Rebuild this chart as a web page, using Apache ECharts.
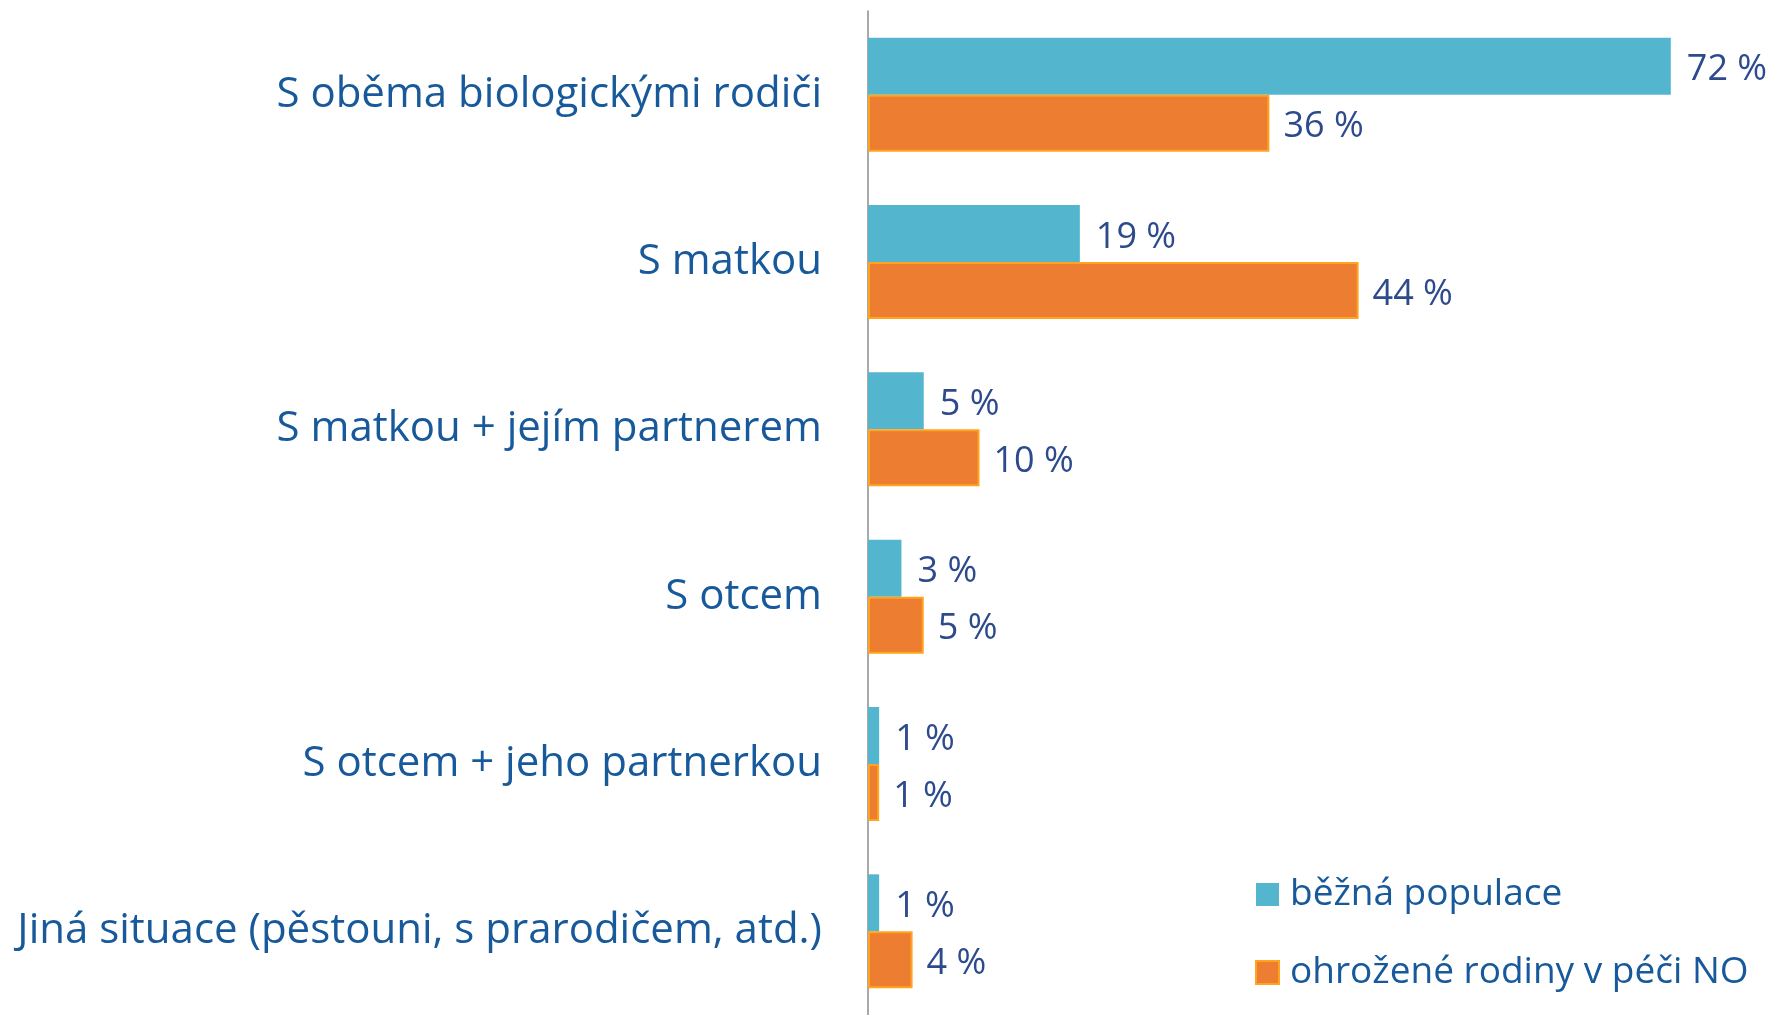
<!DOCTYPE html>
<html>
<head>
<meta charset="utf-8">
<script src="https://cdn.jsdelivr.net/npm/echarts@6/dist/echarts.min.js"></script>
<style>
  html, body { margin: 0; padding: 0; background: #fff; }
  #chart { width: 1775px; height: 1015px; }
</style>
</head>
<body>
<div id="chart"></div>
<script>
// categories, top to bottom
var categories = [
  'S oběma biologickými rodiči',
  'S matkou',
  'S matkou + jejím partnerem',
  'S otcem',
  'S otcem + jeho partnerkou',
  'Jiná situace (pěstouni, s prarodičem, atd.)'
];
var seriesNames = ['běžná populace', 'ohrožené rodiny v péči NO'];
var bezna = [72, 19, 5, 3, 1, 1];
var ohrozene = [36, 44, 10, 5, 1, 4];

var fontName = '"Open Sans", sans-serif';

var myChart = echarts.init(document.getElementById('chart'));
var option = {
  animation: false,
  grid: {
    left: 868,
    width: 892,
    top: 11,
    height: 1010
  },
  legend: {
    orient: 'vertical',
    left: 1250,
    top: 871,
    icon: 'rect',
    itemWidth: 23,
    itemHeight: 23,
    itemGap: 41,
    data: seriesNames,
    textStyle: { color: '#17599A', fontSize: 37, fontFamily: fontName, padding: [0, 0, 0, 6] }
  },
  xAxis: {
    type: 'value',
    min: 0,
    max: 80,
    show: false
  },
  yAxis: {
    type: 'category',
    data: categories,
    inverse: true,
    axisTick: { show: false },
    axisLine: { show: true, lineStyle: { color: '#8c8c8c', width: 1.5 } },
    axisLabel: {
      margin: 46,
      color: '#17599A',
      fontSize: 42,
      fontFamily: fontName,
      padding: [4, 0, 0, 0]
    }
  },
  series: [
    {
      name: seriesNames[0],
      type: 'bar',
      data: bezna,
      barWidth: 57,
      barGap: '0%',
      itemStyle: { color: '#54B5CE' },
      label: {
        show: true,
        position: 'right',
        distance: 16,
        offset: [0, 4],
        formatter: '{c} %',
        color: '#2C4A8C',
        fontSize: 36,
        fontFamily: fontName
      }
    },
    {
      name: seriesNames[1],
      type: 'bar',
      data: ohrozene,
      barWidth: 57,
      barGap: '0%',
      itemStyle: { color: '#ED7D31', borderColor: '#FFA41C', borderWidth: 2 },
      label: {
        show: true,
        position: 'right',
        distance: 14,
        offset: [0, 4],
        formatter: '{c} %',
        color: '#2C4A8C',
        fontSize: 36,
        fontFamily: fontName
      }
    }
  ]
};
option && myChart.setOption(option);
</script>
</body>
</html>
